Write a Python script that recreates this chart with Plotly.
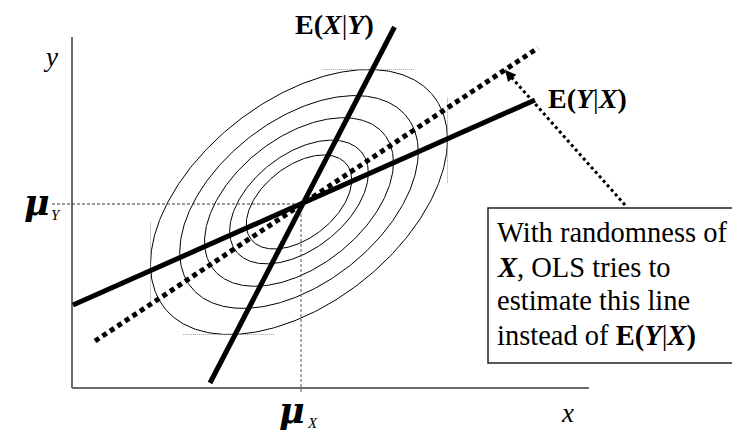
import numpy as np
import plotly.graph_objects as go

# ---- data (diagram units, origin at the axes corner) ----
axis_x_end = 517
axis_y_end = 351
mu = [229, 184]                      # (mu_X, mu_Y)
ell_center = [227, 186]
ell_sd = [148.5, 132.5]
ell_rho = 0.47
ell_levels = [1.0, 0.803, 0.636, 0.467, 0.355]

line_EXY_x = [138, 322.5]
line_EXY_y = [5, 361]
line_EYX_x = [1, 463]
line_EYX_y = [83, 288]
line_ols_x = [23, 466]
line_ols_y = [47, 340]
arrow_x = [553, 433]
arrow_y = [183, 318]

box_x = [416, 666]
box_y = [25, 180]
box_lines = ["With randomness of",
             "<b><i>X</i></b>, OLS tries to",
             "estimate this line",
             "instead of <b>E(</b><b><i>Y</i></b>|<b><i>X</i></b><b>)</b>"]
box_line_y = [156, 121, 88, 52]

SERIF = "Liberation Serif, Times New Roman, serif"
GREEK = "DejaVu Serif, serif"

fig = go.Figure()

# ellipse contours
t = np.linspace(0, 2 * np.pi, 361)
for k in ell_levels:
    ex = ell_center[0] + k * ell_sd[0] * np.cos(t)
    ey = ell_center[1] + k * ell_sd[1] * (ell_rho * np.cos(t) + np.sqrt(1 - ell_rho ** 2) * np.sin(t))
    fig.add_trace(go.Scatter(x=ex, y=ey, mode="lines", line=dict(color="black", width=1),
                             hoverinfo="skip", showlegend=False))

# tangent (bounding) dotted guides of the outer ellipse
cx, cy = ell_center
sx, sy = ell_sd
tx = ell_rho * sx
ty = ell_rho * sy
guides = [
    ([cx + tx - 46, cx + tx + 46], [cy + sy, cy + sy]),
    ([cx - tx - 46, cx - tx + 46], [cy - sy, cy - sy]),
    ([cx - sx, cx - sx], [cy - ty - 43, cy - ty + 43]),
    ([cx + sx, cx + sx], [cy + ty - 43, cy + ty + 43]),
]
for gx, gy in guides:
    fig.add_trace(go.Scatter(x=gx, y=gy, mode="lines",
                             line=dict(color="#9a9a9a", width=1, dash="1px,1px"),
                             hoverinfo="skip", showlegend=False))

# mean guides
fig.add_trace(go.Scatter(x=[-20, mu[0]], y=[mu[1], mu[1]], mode="lines",
                         line=dict(color="#333333", width=1, dash="3px,2px"),
                         hoverinfo="skip", showlegend=False))
fig.add_trace(go.Scatter(x=[mu[0], mu[0]], y=[mu[1], -5], mode="lines",
                         line=dict(color="#555555", width=1, dash="3px,2px"),
                         hoverinfo="skip", showlegend=False))

# axes
fig.add_trace(go.Scatter(x=[0, 0], y=[0, axis_y_end], mode="lines",
                         line=dict(color="#3a3a3a", width=1.5), hoverinfo="skip", showlegend=False))
fig.add_trace(go.Scatter(x=[0, axis_x_end], y=[0, 0], mode="lines",
                         line=dict(color="#6a6a6a", width=2), hoverinfo="skip", showlegend=False))

# regression lines
fig.add_trace(go.Scatter(x=line_ols_x, y=line_ols_y, mode="lines",
                         line=dict(color="black", width=5, dash="5px,4px"),
                         hoverinfo="skip", showlegend=False))
fig.add_trace(go.Scatter(x=line_EYX_x, y=line_EYX_y, mode="lines",
                         line=dict(color="black", width=5), hoverinfo="skip", showlegend=False))
fig.add_trace(go.Scatter(x=line_EXY_x, y=line_EXY_y, mode="lines",
                         line=dict(color="black", width=5), hoverinfo="skip", showlegend=False))

# dotted arrow
fig.add_trace(go.Scatter(x=arrow_x, y=arrow_y, mode="lines",
                         line=dict(color="black", width=3, dash="3px,3px"),
                         hoverinfo="skip", showlegend=False))
fig.add_annotation(x=arrow_x[1], y=arrow_y[1], ax=7, ay=8, axref="pixel", ayref="pixel",
                   showarrow=True, arrowhead=2, arrowsize=1.1, arrowwidth=2, arrowcolor="black", text="")

# text box
fig.add_shape(type="rect", x0=box_x[0], x1=box_x[1], y0=box_y[0], y1=box_y[1],
              line=dict(color="#222222", width=1.5), fillcolor="white", layer="above")
for txt, yy in zip(box_lines, box_line_y):
    fig.add_annotation(x=box_x[0] + 7, y=yy, text=txt, showarrow=False, xanchor="left", yanchor="middle",
                       font=dict(family=SERIF, size=28.5, color="black"))

# labels
fig.add_annotation(x=262, y=364, text="<b>E(</b><b><i>X</i></b>|<b><i>Y</i></b><b>)</b>", showarrow=False,
                   font=dict(family=SERIF, size=28, color="black"))
fig.add_annotation(x=515, y=290, text="<b>E(</b><b><i>Y</i></b>|<b><i>X</i></b><b>)</b>", showarrow=False,
                   font=dict(family=SERIF, size=28, color="black"))
fig.add_annotation(x=-22, y=331, text="<i>y</i>", showarrow=False,
                   font=dict(family=SERIF, size=27, color="black"))
fig.add_annotation(x=495, y=-25, text="<i>x</i>", showarrow=False,
                   font=dict(family=SERIF, size=27, color="black"))
fig.add_annotation(x=-35, y=186, text="<b><i>μ</i></b>", showarrow=False,
                   font=dict(family=GREEK, size=35, color="black"))
fig.add_annotation(x=-16, y=173, text="<i>Y</i>", showarrow=False,
                   font=dict(family=SERIF, size=15, color="black"))
fig.add_annotation(x=220, y=-22, text="<b><i>μ</i></b>", showarrow=False,
                   font=dict(family=GREEK, size=35, color="black"))
fig.add_annotation(x=240, y=-35, text="<i>X</i>", showarrow=False,
                   font=dict(family=SERIF, size=15, color="black"))

# page body has an 8px margin: the figure is sized/shifted to compensate
fig.update_layout(
    width=732, height=423,
    margin=dict(l=0, r=0, t=0, b=0, pad=0),
    paper_bgcolor="white", plot_bgcolor="white",
    xaxis=dict(range=[-64, 668], visible=False, fixedrange=True),
    yaxis=dict(range=[-43, 380], visible=False, fixedrange=True),
)

fig.write_html("out.html")
